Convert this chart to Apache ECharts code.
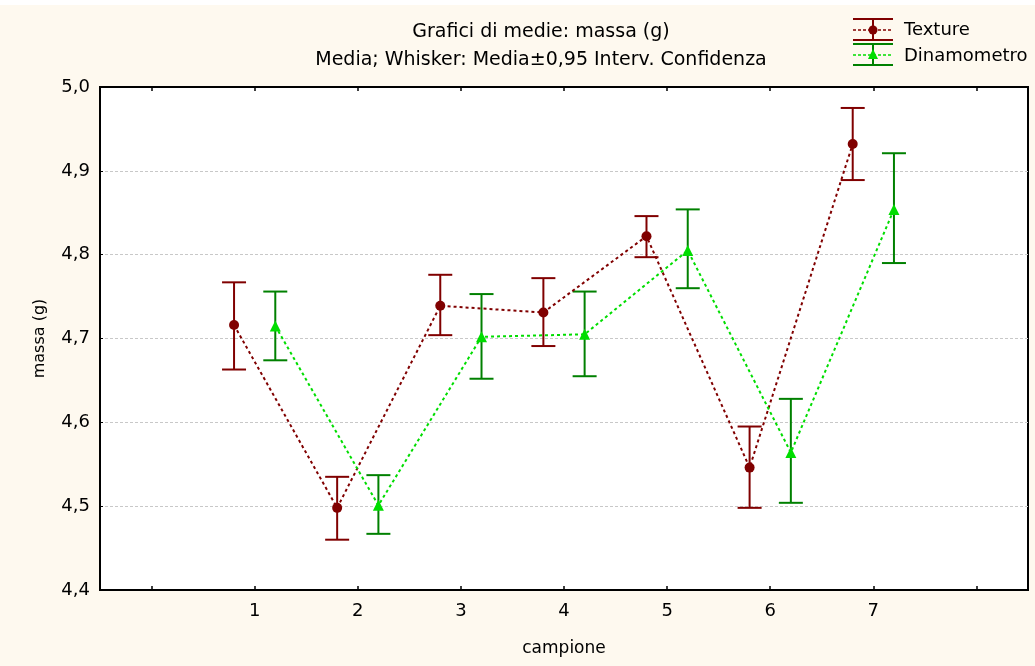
<!DOCTYPE html>
<html>
<head>
<meta charset="utf-8">
<script src="https://cdn.jsdelivr.net/npm/echarts@6/dist/echarts.min.js"></script>
<style>
html,body{margin:0;padding:0;background:#ffffff;}
#c{width:1035px;height:666px;}
</style>
</head>
<body>
<div id="c"></div>
<script>
const categories = [1, 2, 3, 4, 5, 6, 7];
const xTickValues = [0, 1, 2, 3, 4, 5, 6, 7, 8];
const xTickLabels = ['1', '2', '3', '4', '5', '6', '7'];
const yTickLabels = ['4,4', '4,5', '4,6', '4,7', '4,8', '4,9', '5,0'];

const textureMean = [4.716, 4.498, 4.739, 4.731, 4.822, 4.546, 4.932];
const textureLow  = [4.663, 4.460, 4.704, 4.691, 4.797, 4.498, 4.889];
const textureHigh = [4.767, 4.535, 4.776, 4.772, 4.846, 4.595, 4.975];

const dinaMean = [4.715, 4.501, 4.702, 4.705, 4.805, 4.564, 4.854];
const dinaLow  = [4.674, 4.467, 4.652, 4.655, 4.760, 4.504, 4.790];
const dinaHigh = [4.756, 4.537, 4.753, 4.756, 4.854, 4.628, 4.921];

const FONT = '"DejaVu Sans", "Liberation Sans", Arial, sans-serif';
const RED = '#800000';
const GREEN = '#008000';
const LIME = '#00dd00';
const OFF = 0.2;

function errData(mean, lo, hi, off) {
  return categories.map((c, i) => [c + off, lo[i], hi[i], mean[i]]);
}
function lineData(mean, off) {
  return categories.map((c, i) => [c + off, mean[i]]);
}
function errRender(color) {
  return function (params, api) {
    const x = api.value(0);
    const pLo = api.coord([x, api.value(1)]);
    const pHi = api.coord([x, api.value(2)]);
    const hw = 12;
    const st = { stroke: color, lineWidth: 2 };
    return {
      type: 'group',
      children: [
        { type: 'line', shape: { x1: pLo[0], y1: pLo[1], x2: pHi[0], y2: pHi[1] }, style: st },
        { type: 'line', shape: { x1: pHi[0] - hw, y1: pHi[1], x2: pHi[0] + hw, y2: pHi[1] }, style: st },
        { type: 'line', shape: { x1: pLo[0] - hw, y1: pLo[1], x2: pLo[0] + hw, y2: pLo[1] }, style: st }
      ]
    };
  };
}

const chart = echarts.init(document.getElementById('c'), null, { renderer: 'canvas' });

function legendEntry(y, barColor, lineColor, symbol) {
  const x1 = 853, x2 = 893, xm = 873;
  const items = [
    { type: 'line', shape: { x1: x1, y1: y - 11, x2: x2, y2: y - 11 }, style: { stroke: barColor, lineWidth: 2 } },
    { type: 'line', shape: { x1: x1, y1: y + 10, x2: x2, y2: y + 10 }, style: { stroke: barColor, lineWidth: 2 } },
    { type: 'line', shape: { x1: xm, y1: y - 11, x2: xm, y2: y + 10 }, style: { stroke: barColor, lineWidth: 2 } },
    { type: 'line', shape: { x1: x1, y1: y, x2: x2, y2: y }, style: { stroke: lineColor, lineWidth: 1.5, lineDash: [3, 2] } }
  ];
  if (symbol === 'circle') {
    items.push({ type: 'circle', shape: { cx: xm, cy: y, r: 4.5 }, style: { fill: lineColor } });
  } else {
    items.push({ type: 'polygon', shape: { points: [[xm, y - 6], [xm - 5, y + 4], [xm + 5, y + 4]] }, style: { fill: lineColor } });
  }
  return items;
}

const option = {
  backgroundColor: '#fef9ef',
  animation: false,
  textStyle: { fontFamily: FONT },
  grid: {
    left: 100, right: 7, top: 87, bottom: 76,
    show: true, backgroundColor: '#ffffff', borderColor: '#000000', borderWidth: 2
  },
  xAxis: [{
    type: 'value', min: -0.5, max: 8.5,
    name: 'campione', nameLocation: 'middle', nameGap: 50,
    nameTextStyle: { color: '#000', fontSize: 17, fontFamily: FONT },
    axisLine: { show: true, onZero: false, lineStyle: { color: '#000', width: 2 } },
    axisTick: { show: true, inside: true, length: 4, customValues: xTickValues, lineStyle: { color: '#000', width: 1.5 } },
    axisLabel: {
      color: '#000', fontSize: 18, fontFamily: FONT, margin: 12,
      customValues: categories,
      formatter: v => xTickLabels[categories.indexOf(Math.round(v))] || ''
    },
    splitLine: { show: false }
  }, {
    type: 'value', position: 'top', min: -0.5, max: 8.5,
    axisLine: { show: true, onZero: false, lineStyle: { color: '#000', width: 2 } },
    axisTick: { show: true, inside: true, length: 4, customValues: xTickValues, lineStyle: { color: '#000', width: 1.5 } },
    axisLabel: { show: false },
    splitLine: { show: false }
  }],
  yAxis: {
    type: 'value', min: 4.4, max: 5.0, interval: 0.1,
    name: 'massa (g)', nameLocation: 'middle', nameGap: 52, nameRotate: 90,
    nameTextStyle: { color: '#000', fontSize: 16, fontFamily: FONT },
    axisLine: { show: true, onZero: false, lineStyle: { color: '#000', width: 2 } },
    axisTick: { show: true, inside: true, length: 3, lineStyle: { color: '#000', width: 1 } },
    axisLabel: {
      color: '#000', fontSize: 18, fontFamily: FONT, margin: 10,
      formatter: v => yTickLabels[Math.round((v - 4.4) * 10)]
    },
    splitLine: { show: true, lineStyle: { color: '#c8c8c8', type: [3, 2], width: 1 } }
  },
  graphic: [
    { type: 'rect', shape: { x: 0, y: 0, width: 1035, height: 5 }, style: { fill: '#ffffff' } },
    { type: 'text', x: 541, y: 32, style: { text: 'Grafici di medie: massa (g)', fill: '#000', font: '19px ' + FONT, textAlign: 'center', textVerticalAlign: 'middle' } },
    { type: 'text', x: 541, y: 60, style: { text: 'Media; Whisker: Media±0,95 Interv. Confidenza', fill: '#000', font: '19px ' + FONT, textAlign: 'center', textVerticalAlign: 'middle' } },
    ...legendEntry(30, RED, RED, 'circle'),
    ...legendEntry(55, GREEN, LIME, 'triangle'),
    { type: 'text', x: 904, y: 30, style: { text: 'Texture', fill: '#000', font: '18px ' + FONT, textVerticalAlign: 'middle' } },
    { type: 'text', x: 904, y: 56, style: { text: 'Dinamometro', fill: '#000', font: '18px ' + FONT, textVerticalAlign: 'middle' } }
  ],
  series: [
    {
      name: 'Texture err', type: 'custom', xAxisIndex: 0,
      renderItem: errRender(RED), data: errData(textureMean, textureLow, textureHigh, -OFF), z: 2
    },
    {
      name: 'Dinamometro err', type: 'custom', xAxisIndex: 0,
      renderItem: errRender(GREEN), data: errData(dinaMean, dinaLow, dinaHigh, OFF), z: 2
    },
    {
      name: 'Texture', type: 'line', xAxisIndex: 0, data: lineData(textureMean, -OFF),
      symbol: 'circle', symbolSize: 10,
      lineStyle: { color: RED, width: 2, type: [3, 3] },
      itemStyle: { color: RED }, z: 3
    },
    {
      name: 'Dinamometro', type: 'line', xAxisIndex: 0, data: lineData(dinaMean, OFF),
      symbol: 'triangle', symbolSize: 11,
      lineStyle: { color: LIME, width: 2, type: [3, 3] },
      itemStyle: { color: LIME }, z: 3
    }
  ]
};
chart.setOption(option);
</script>
</body>
</html>
